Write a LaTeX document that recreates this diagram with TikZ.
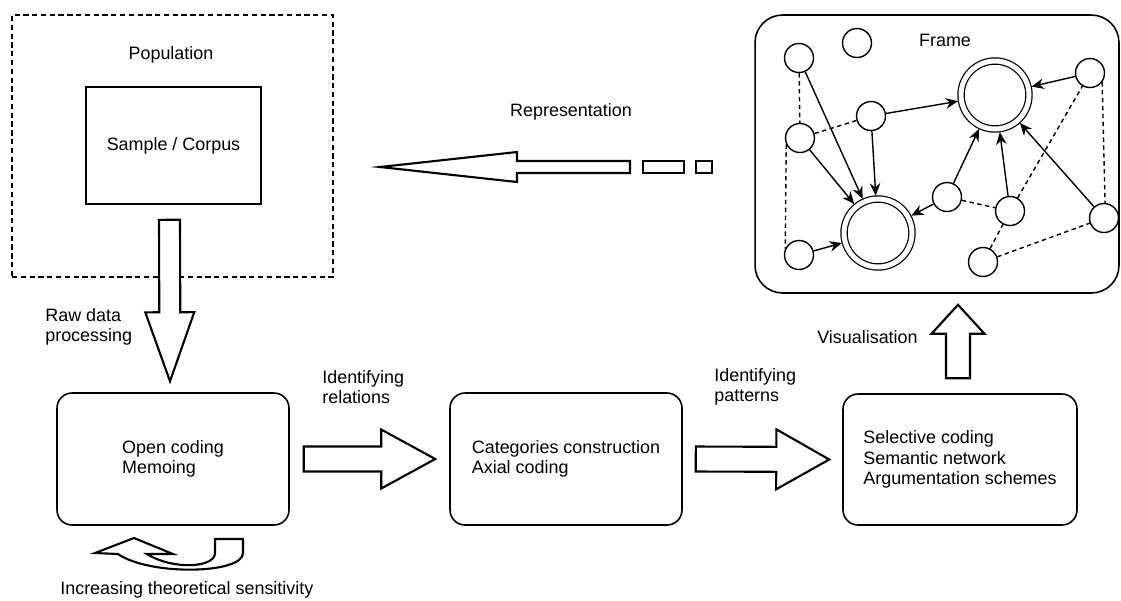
\documentclass[tikz,border=0pt]{standalone}
\usepackage{fontspec}
\setmainfont{Liberation Sans}
\usetikzlibrary{calc, arrows.meta}

\tikzset{
	box/.style = {draw, line width=0.9pt, rounded corners=0.3cm, minimum width=4.64cm, minimum height=2.64cm, align=left},
	vtx/.style = {draw, circle, line width=0.8pt, minimum size=0.58cm, inner sep=0pt},
	hub/.style = {draw, circle, double, double distance=0.1cm, line width=0.7pt, minimum size=1.36cm, inner sep=0pt, outer sep=0.07cm},
	blockline/.style = {draw, fill=white, line width=1.2pt, line join=miter},
	lbl/.style = {anchor=west, align=left, inner sep=0pt},
	link/.style = {line width=0.8pt, dash pattern=on 2.5pt off 2pt},
}

% fat arrow: from, to, half shaft, half head, head length
\newcommand{\blockarrow}[5]{
	\coordinate (ba-s) at ($(#2)!#5!(#1)$);
	\draw [blockline] ($(#1)!#3!90:(#2)$) -- ($(ba-s)!#3!90:(#2)$) -- ($(ba-s)!#4!90:(#2)$)
	-- (#2) -- ($(ba-s)!#4!-90:(#2)$) -- ($(ba-s)!#3!-90:(#2)$) -- ($(#1)!#3!-90:(#2)$) -- cycle;
}

\begin{document}
\begin{tikzpicture}[> = {Stealth[length=7pt, width=6pt]}, x=0.02cm, y=-0.02cm,
	font=\fontsize{10.2pt}{11.6pt}\selectfont]
	\useasboundingbox (0,0) rectangle (1121,600);
	
	% population, sample
	\node [draw, line width=0.8pt, dash pattern=on 3pt off 2pt, minimum width=6.42cm, minimum height=5.24cm] (pop) at (172.5,146) {};
	\node (poplbl) at (171,55) {Population};
	\node [draw, line width=0.9pt, minimum width=3.5cm, minimum height=2.34cm] (sample) at (173.5,145.5) {Sample / Corpus};
	
	% coding steps
	\node [box] (open) at (173,459) {Open coding\\Memoing};
	\node [box] (cat) at (566,459) {Categories construction\\Axial coding};
	\node [box, minimum width=4.68cm, minimum height=2.62cm] (sel) at (960,459.5) {Selective coding\\Semantic network\\Argumentation schemes};
	
	% frame
	\node [draw, line width=0.9pt, rounded corners=0.55cm, minimum width=7.28cm, minimum height=5.56cm] (frame) at (937,154) {};
	\node (framelbl) at (945,40) {Frame};
	
	% labels
	\node [lbl] (rawlbl) at (45,327) {Raw data\\processing};
	\node [lbl] (rellbl) at (322,387) {Identifying\\relations};
	\node [lbl] (patlbl) at (714,387) {Identifying\\patterns};
	\node [lbl] (vislbl) at (817,337) {Visualisation};
	\node (replbl) at (571,112) {Representation};
	\node [lbl] (senslbl) at (60,590) {Increasing theoretical sensitivity};
	
	% fat arrows
	\coordinate (raw1) at ($(sample.south)+(-4,15)$);
	\coordinate (raw2) at ($(open.north)+(-3,-11)$);
	\blockarrow{raw1}{raw2}{0.21cm}{0.49cm}{1.38cm}
	\coordinate (rel1) at ($(open.east)+(14,0)$);
	\coordinate (rel2) at ($(cat.west)+(-14,0)$);
	\blockarrow{rel1}{rel2}{0.25cm}{0.59cm}{1.08cm}
	\coordinate (pat1) at ($(cat.east)+(13,0)$);
	\coordinate (pat2) at ($(sel.west)+(-13,0)$);
	\blockarrow{pat1}{pat2}{0.25cm}{0.6cm}{1.06cm}
	\coordinate (vis1) at ($(sel.north)+(-2,-15)$);
	\coordinate (vis2) at ($(vis1 |- frame.south)+(0,11)$);
	\blockarrow{vis1}{vis2}{0.24cm}{0.53cm}{0.58cm}
	
	% representation, with its dashes
	\coordinate (rep1) at (630,167);
	\coordinate (rep2) at (380,167);
	\blockarrow{rep1}{rep2}{0.12cm}{0.3cm}{2.74cm}
	\draw [blockline] (643,161) rectangle (684,173);
	\draw [blockline] (696,161) rectangle (712,173);
	
	% u-turn under open coding
	\draw [blockline] (243,539) -- (243,553) .. controls (243,574) and (150,576) .. (118,554)
	-- (95,553) -- (134,538) -- (173,554) -- (147,554)
	.. controls (172,570) and (215,568) .. (215,553) -- (215,539) -- cycle;
	
	% network in the frame
	\node [vtx] (c1) at (799,58) {};
	\node [vtx] (c2) at (857,43) {};
	\node [vtx] (c3) at (800,138) {};
	\node [vtx] (c4) at (871,116) {};
	\node [vtx] (c5) at (799,255) {};
	\node [vtx] (c6) at (1090,73) {};
	\node [vtx] (c7) at (947,197) {};
	\node [vtx] (c8) at (1010,211) {};
	\node [vtx] (c9) at (1104,218) {};
	\node [vtx] (c10) at (983,262) {};
	\node [hub] (big1) at (878,233) {};
	\node [hub] (big2) at (995,95) {};
	
	% solid links
	\draw [->, line width=0.8pt] (c1) -- (big1);
	\draw [->, line width=0.8pt] (c3) -- (big1);
	\draw [->, line width=0.8pt] (c4) -- (big1);
	\draw [->, line width=0.8pt] (c5) -- (big1);
	\draw [->, line width=0.8pt] (c7) -- (big1);
	\draw [->, line width=0.8pt] (c4) -- (big2);
	\draw [->, line width=0.8pt] (c7) -- (big2);
	\draw [->, line width=0.8pt] (c8) -- (big2);
	\draw [->, line width=0.8pt] (c9) -- (big2);
	\draw [->, line width=0.8pt] (c6) -- (big2);
	
	% dashed links
	\draw [link] (c1) -- (c3);
	\draw [link] (c3) -- (c4);
	\draw [link] (c3.205) -- (c5.155);
	\draw [link] (c7) -- (c8);
	\draw [link] (c8) -- (c6);
	\draw [link] (c6.-37) -- (c9.86);
	\draw [link] (c10) -- (c9);
	\draw [link] (c10) -- (c8);
	
\end{tikzpicture}
\end{document}
